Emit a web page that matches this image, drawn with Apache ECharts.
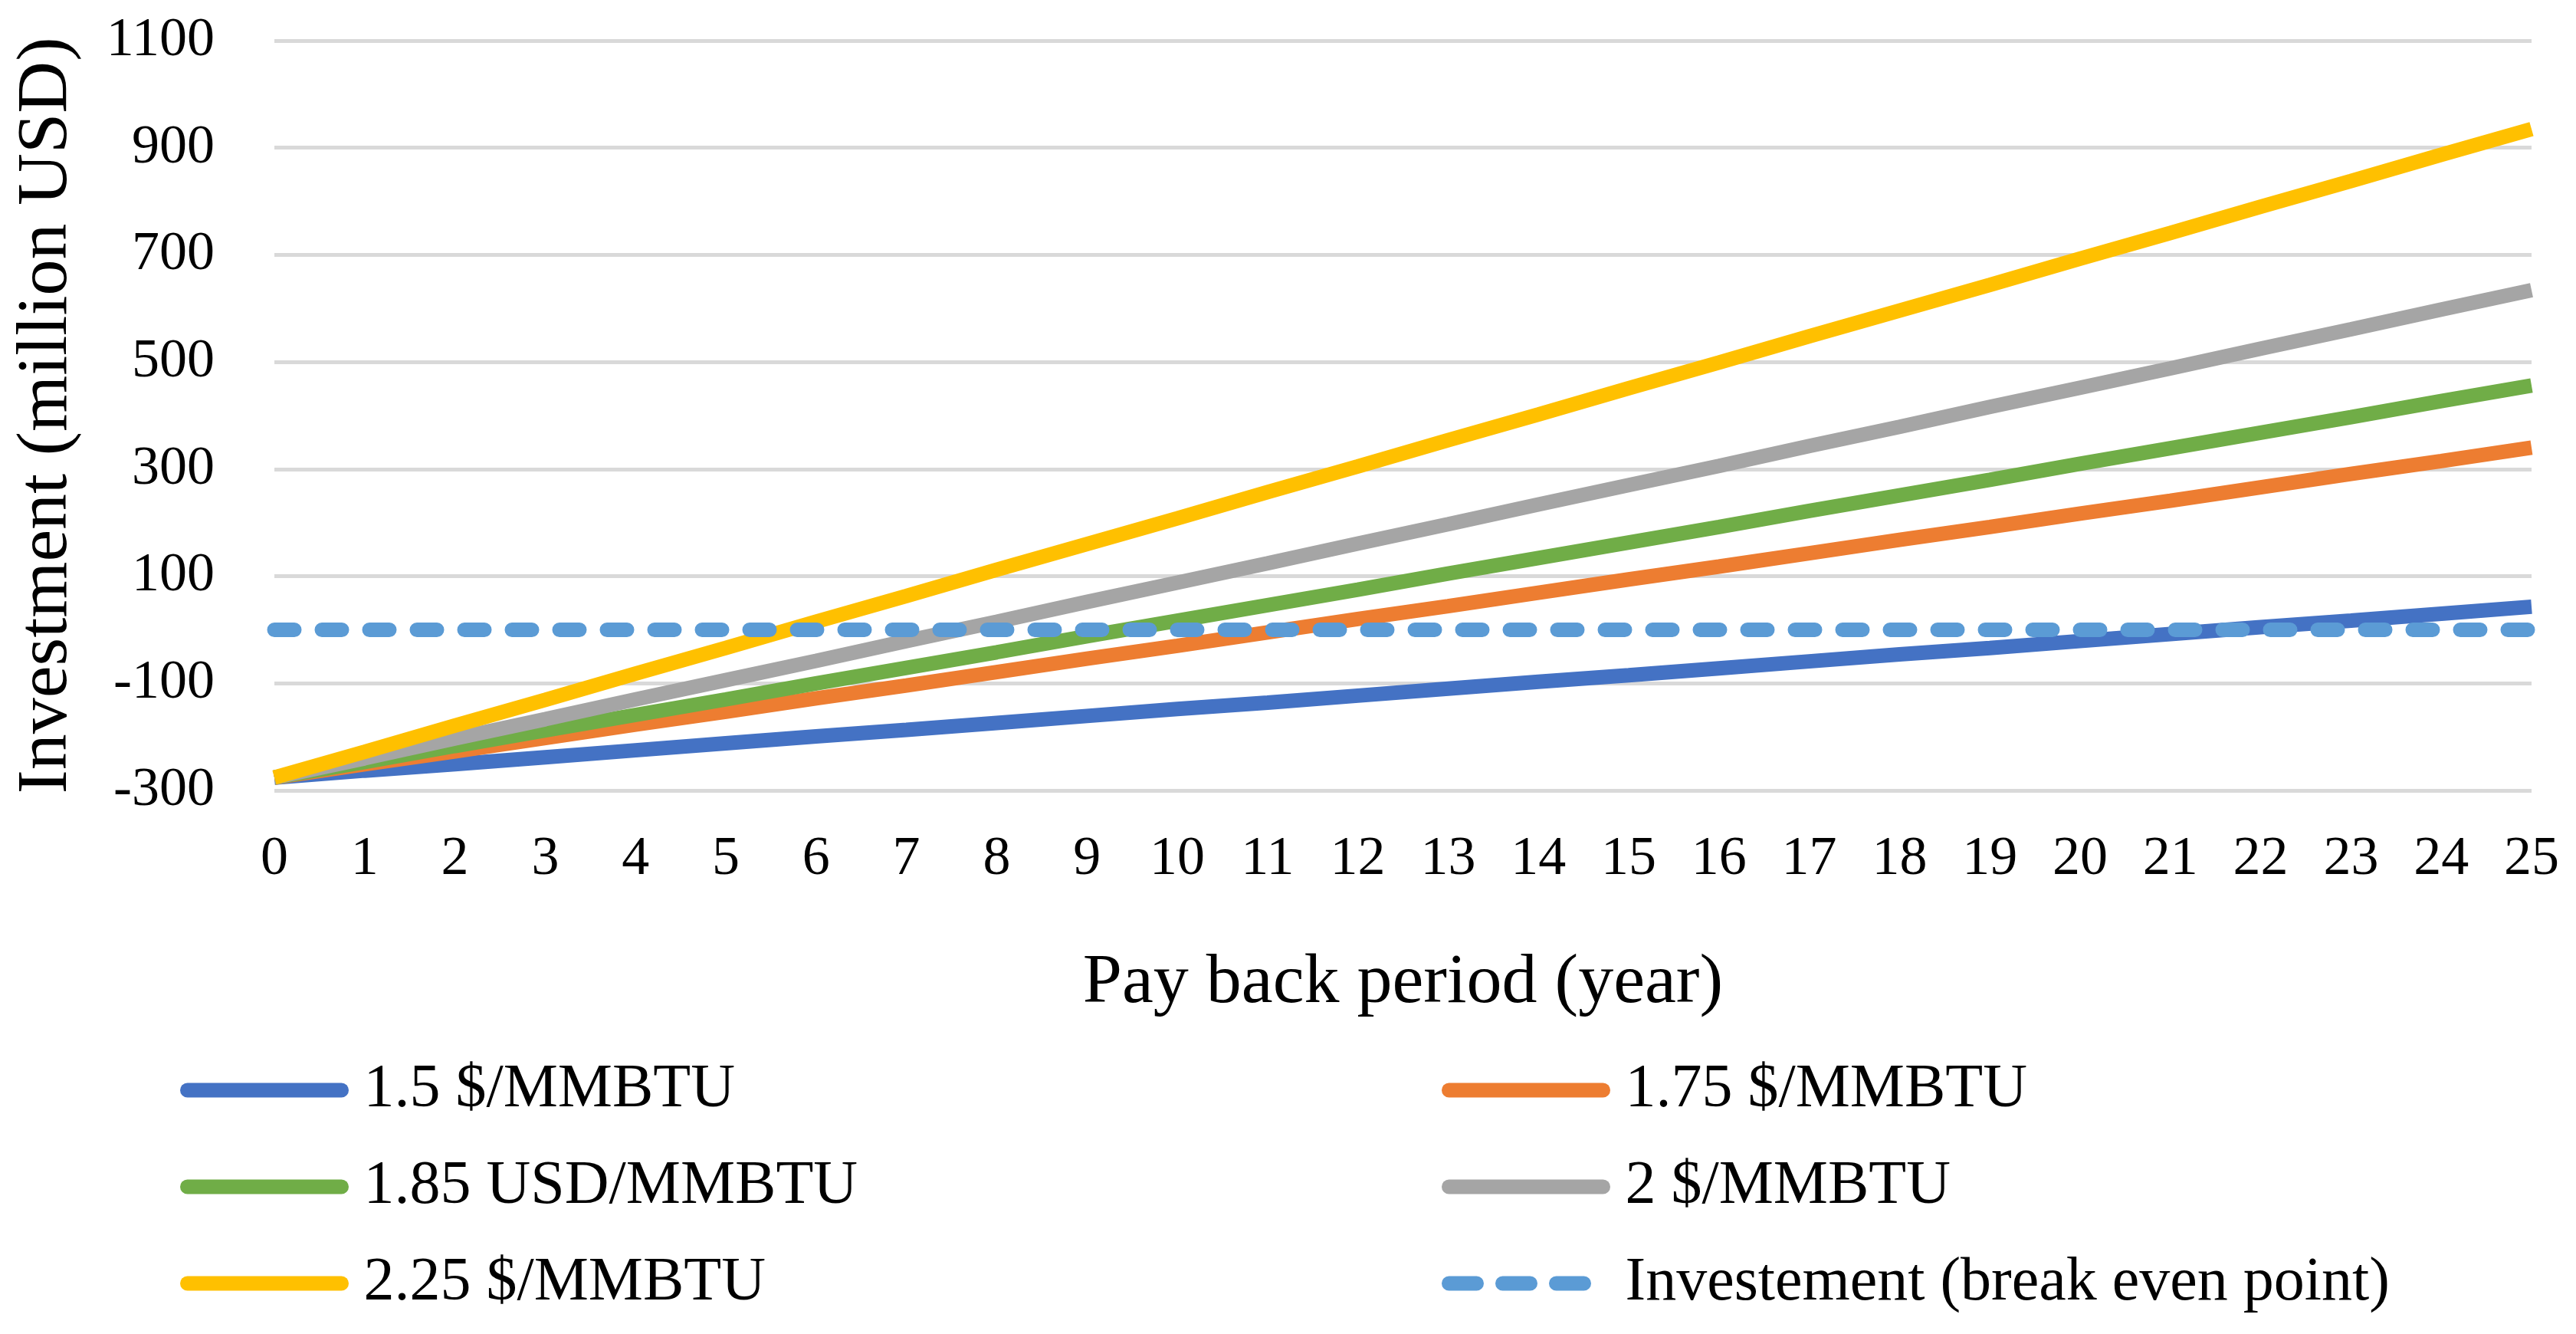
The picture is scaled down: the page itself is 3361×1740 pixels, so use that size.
<!DOCTYPE html>
<html>
<head>
<meta charset="utf-8">
<script src="https://cdn.jsdelivr.net/npm/echarts@6/dist/echarts.min.js"></script>
<style>
html,body{margin:0;padding:0;background:#fff;}
#c{width:3361px;height:1740px;}
</style>
</head>
<body>
<div id="c"></div>
<script>
const years = ['0','1','2','3','4','5','6','7','8','9','10','11','12','13','14','15','16','17','18','19','20','21','22','23','24','25'];
const s150 = [-276,-263,-251,-238,-225,-212,-199,-187,-174,-161,-148,-136,-123,-110,-97,-85,-72,-59,-46,-34,-21,-8,5,17,30,43];
const s175 = [-276,-251,-227,-202,-177,-153,-128,-104,-79,-54,-30,-5,20,44,69,94,118,143,168,192,217,241,266,291,315,340];
const s185 = [-276,-247,-217,-188,-159,-130,-100,-71,-42,-12,17,46,75,105,134,163,192,222,251,280,310,339,368,397,427,456];
const s200 = [-276,-240,-203,-167,-130,-94,-58,-21,15,52,88,124,161,197,234,270,306,343,379,416,452,488,525,561,598,634];
const s225 = [-276,-228,-179,-131,-82,-34,15,63,112,160,208,257,305,354,402,451,499,548,596,644,693,741,790,838,887,935];
const breakEven = [0,0,0,0,0,0,0,0,0,0,0,0,0,0,0,0,0,0,0,0,0,0,0,0,0,0];
const names = ['1.5 $/MMBTU','1.75 $/MMBTU','1.85 USD/MMBTU','2 $/MMBTU','2.25 $/MMBTU','Investement (break even point)'];
const colors = ['#4472c4','#ed7d31','#70ad47','#a5a5a5','#ffc000','#5b9bd5'];
const yTicks = {min:-300, max:1100, interval:200};

const FONT = 'Liberation Serif';
const chart = echarts.init(document.getElementById('c'), null, {renderer:'canvas'});
const datasets = [s150, s175, s185, s200, s225, breakEven];
const series = datasets.map((d, i) => ({
  name: names[i],
  type: 'line',
  data: d,
  symbol: 'none',
  animation: false,
  lineStyle: i === 5
    ? {color: colors[i], width: 19, type: [26, 36], cap: 'round'}
    : {color: colors[i], width: 19},
  itemStyle: {color: colors[i]}
}));
const legendCommon = {
  orient: 'vertical',
  itemWidth: 201,
  itemHeight: 40,
  itemGap: 46,
  textStyle: {fontFamily: FONT, fontSize: 80, color: '#000', lineHeight: 80, padding: [0,0,0,24]},
  lineStyle: {width: 19, cap: 'round'},
  itemStyle: {opacity: 0},
  selectedMode: false
};
chart.setOption({
  backgroundColor: '#fff',
  animation: false,
  color: colors,
  grid: {left: 358, right: 58, top: 53, bottom: 709, containLabel: false},
  xAxis: {
    type: 'category',
    data: years,
    boundaryGap: false,
    axisLine: {show: false},
    axisTick: {show: false},
    axisLabel: {fontFamily: FONT, fontSize: 72, color: '#000', margin: 54, interval: 0},
    splitLine: {show: false},
    name: 'Pay back period (year)',
    nameLocation: 'middle',
    nameGap: 206,
    nameTextStyle: {fontFamily: FONT, fontSize: 92, color: '#000'}
  },
  yAxis: {
    type: 'value',
    min: yTicks.min, max: yTicks.max, interval: yTicks.interval,
    axisLine: {show: false},
    axisTick: {show: false},
    axisLabel: {fontFamily: FONT, fontSize: 72, color: '#000', margin: 78, formatter: v => String(v)},
    splitLine: {lineStyle: {color: '#d9d9d9', width: 5}},
    name: 'Investment (million USD)',
    nameLocation: 'middle',
    nameGap: 250,
    nameRotate: 90,
    nameTextStyle: {fontFamily: FONT, fontSize: 94, color: '#000'}
  },
  legend: [
    Object.assign({}, legendCommon, {left: 230, top: 1377, data: [names[0], names[2], names[4]]}),
    Object.assign({}, legendCommon, {left: 1876, top: 1377, data: [
      names[1], names[3],
      {name: names[5], lineStyle: {width: 19, type: [36, 34], cap: 'round'}}
    ]})
  ],
  series: series
});
</script>
</body>
</html>
